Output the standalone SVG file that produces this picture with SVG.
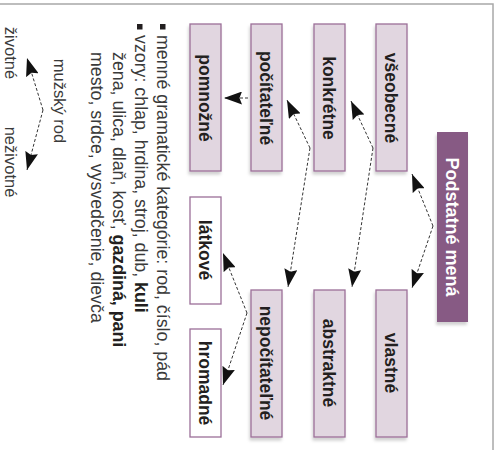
<svg xmlns="http://www.w3.org/2000/svg" width="499" height="450" viewBox="0 0 499 450">
<defs>
<style>
.box{fill:#e1d6e0;stroke:#9b6f98;stroke-width:1.3}
.wbox{fill:#ffffff;stroke:#9b6f98;stroke-width:1.3}
.lbl{font-family:"Liberation Sans",Arial,sans-serif;font-weight:bold;font-size:17.5px;fill:#231f20;text-anchor:middle}
.ttl{font-family:"Liberation Sans",Arial,sans-serif;font-weight:bold;font-size:18px;fill:#ffffff;text-anchor:middle}
.txt{font-family:"Liberation Sans",Arial,sans-serif;font-size:17.8px;fill:#3a3a3a}
.sm{font-family:"Liberation Sans",Arial,sans-serif;font-size:16.5px;fill:#3a3a3a;text-anchor:middle}
.b{font-weight:bold;fill:#231f20}
.con{fill:none;stroke:#333;stroke-width:1;stroke-dasharray:3 2;marker-end:url(#ah)}
</style>
<marker id="ah" markerUnits="userSpaceOnUse" markerWidth="19" markerHeight="13" refX="18" refY="6.5" orient="auto" viewBox="0 0 19 13">
<path d="M0,0 L18,6.5 L0,13 L2.5,6.5 z" fill="#111"/>
</marker>
<filter id="sh" x="-30%" y="-10%" width="160%" height="130%">
<feDropShadow dx="-1" dy="3" stdDeviation="1.5" flood-color="#000" flood-opacity="0.18"/>
</filter>
</defs>
<rect x="-10" y="4" width="503" height="460" fill="#ffffff" stroke="#a8a8a8" stroke-width="1.5"/>

<g id="podstatne-mena">
<rect x="437" y="132" width="31" height="190" fill="#875a84" filter="url(#sh)"/>
<text class="ttl" transform="translate(446,227) rotate(90)">Podstatné mená</text>
</g>
<g id="vseobecne">
<rect class="box" x="376" y="24" width="31" height="147" filter="url(#sh)"/>
<text class="lbl" transform="translate(385,98) rotate(90)">všeobecné</text>
</g>
<g id="vlastne">
<rect class="box" x="376" y="290" width="31" height="147" filter="url(#sh)"/>
<text class="lbl" transform="translate(385,363) rotate(90)">vlastné</text>
</g>
<g id="konkretne">
<rect class="box" x="314" y="24" width="31" height="147" filter="url(#sh)"/>
<text class="lbl" transform="translate(323,98) rotate(90)">konkrétne</text>
</g>
<g id="abstraktne">
<rect class="box" x="314" y="290" width="31" height="147" filter="url(#sh)"/>
<text class="lbl" transform="translate(323,363) rotate(90)">abstraktné</text>
</g>
<g id="pocitatelne">
<rect class="box" x="251" y="24" width="31" height="147" filter="url(#sh)"/>
<text class="lbl" transform="translate(260,98) rotate(90)">počítateľné</text>
</g>
<g id="nepocitatelne">
<rect class="box" x="251" y="290" width="31" height="147" filter="url(#sh)"/>
<text class="lbl" transform="translate(260,363) rotate(90)">nepočítateľné</text>
</g>
<g id="pomnozne">
<rect class="box" x="190" y="24" width="31" height="147" filter="url(#sh)"/>
<text class="lbl" transform="translate(199,98) rotate(90)">pomnožné</text>
</g>
<g id="latkove">
<rect class="wbox" x="190" y="197" width="31" height="107"/>
<text class="lbl" transform="translate(199,250) rotate(90)">látkové</text>
</g>
<g id="hromadne">
<rect class="wbox" x="190" y="329" width="31" height="108"/>
<text class="lbl" transform="translate(199,383) rotate(90)">hromadné</text>
</g>

<g id="notes">
<rect x="160" y="24" width="5.5" height="5.5" fill="#231f20"/>
<rect x="137" y="24" width="5.5" height="5.5" fill="#231f20"/>
<text class="txt" transform="translate(157,35) rotate(90)">menné gramatické kategórie: rod, číslo, pád</text>
<text class="txt" transform="translate(135,35) rotate(90)">vzory: chlap, hrdina, stroj, dub, <tspan class="b">kuli</tspan></text>
<text class="txt" transform="translate(113,52) rotate(90)">žena, ulica, dlaň, kosť, <tspan class="b">gazdiná, pani</tspan></text>
<text class="txt" transform="translate(91,52) rotate(90)">mesto, srdce, vysvedčenie, dievča</text>
</g>
<g id="muzsky-rod">
<text class="sm" transform="translate(54,101) rotate(90)">mužský rod</text>
</g>
<g id="zivotne">
<text class="sm" transform="translate(5,53) rotate(90)">životné</text>
</g>
<g id="nezivotne">
<text class="sm" transform="translate(5,162) rotate(90)">neživotné</text>
</g>

<g id="connectors">
<line class="con" x1="433" y1="226" x2="412" y2="174"/>
<line class="con" x1="433" y1="226" x2="412" y2="288"/>
<line class="con" x1="373" y1="148" x2="351" y2="101"/>
<line class="con" x1="373" y1="148" x2="352" y2="287"/>
<line class="con" x1="310" y1="148" x2="287" y2="100"/>
<line class="con" x1="310" y1="148" x2="288" y2="287"/>
<line class="con" x1="248" y1="98" x2="224" y2="98"/>
<line class="con" x1="247" y1="313" x2="223" y2="253"/>
<line class="con" x1="247" y1="313" x2="223" y2="385"/>
<line class="con" x1="43" y1="110" x2="27" y2="58"/>
<line class="con" x1="43" y1="110" x2="27" y2="170"/>
</g>
</svg>
